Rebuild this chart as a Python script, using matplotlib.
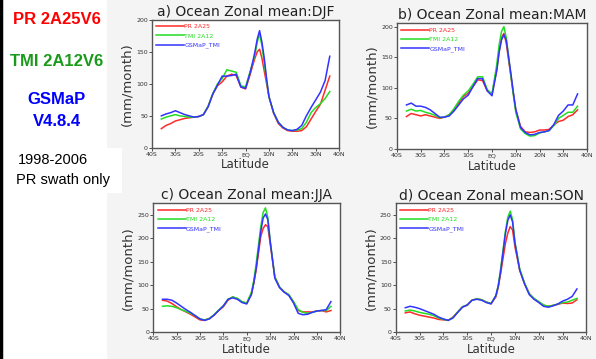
import numpy as np
import matplotlib
matplotlib.use("Agg")
import matplotlib.pyplot as plt
from matplotlib.patches import Rectangle
from matplotlib.lines import Line2D

# latitude grid (deg, S negative); 1-degree spacing around the ITCZ peak
lat = [-36, -34, -32, -30, -28, -26, -24, -22, -20, -18, -16, -14, -12, -10, -8, -6, -4, -2, 0, 2,
       3, 4, 5, 6, 7, 8, 9, 10,
       12, 14, 16, 18, 20, 22, 24, 26, 28, 30, 32, 34, 36]

# DJF
djf_pr = [30, 35, 38, 42, 44, 46, 47, 48, 49, 52, 65, 84, 97, 103, 112, 115, 113, 95, 92, 115,
          128, 140, 150, 154, 140, 120, 100, 80,
          54, 38, 31, 27, 26, 26, 27, 33, 45, 57, 68, 90, 112]
djf_tmi = [45, 48, 50, 52, 50, 49, 48, 48, 49, 52, 65, 85, 100, 108, 122, 120, 118, 97, 95, 120,
           132, 145, 165, 178, 160, 132, 105, 80,
           55, 40, 32, 28, 27, 28, 30, 40, 55, 63, 69, 77, 88]
djf_gsm = [50, 53, 55, 58, 55, 52, 50, 48, 49, 52, 64, 84, 98, 112, 112, 113, 115, 95, 93, 118,
           133, 150, 170, 183, 165, 140, 108, 80,
           55, 40, 32, 28, 27, 29, 35, 50, 63, 75, 87, 105, 143]

# MAM
mam_pr = [53, 58, 56, 54, 56, 54, 52, 50, 52, 56, 64, 75, 86, 91, 102, 113, 112, 95, 90, 130,
          160, 182, 189, 173, 145, 118, 90, 64,
          37, 28, 27, 28, 31, 31, 32, 39, 45, 47, 53, 56, 64]
mam_tmi = [62, 65, 62, 63, 60, 58, 55, 51, 52, 56, 66, 78, 88, 95, 106, 118, 118, 97, 90, 138,
           170, 192, 200, 182, 150, 118, 88, 60,
           33, 25, 21, 22, 26, 28, 30, 38, 50, 55, 60, 60, 70]
mam_gsm = [72, 75, 70, 70, 68, 64, 58, 52, 52, 54, 62, 72, 82, 88, 102, 115, 115, 95, 87, 128,
           158, 178, 187, 178, 150, 122, 92, 65,
           35, 27, 23, 24, 27, 28, 30, 40, 55, 62, 72, 72, 90]

# JJA
jja_pr = [68, 66, 61, 54, 48, 43, 38, 32, 26, 25, 29, 36, 46, 54, 68, 75, 71, 64, 62, 82,
          104, 132, 168, 204, 221, 229, 225, 189,
          118, 96, 86, 79, 64, 46, 43, 43, 43, 45, 46, 43, 46]
jja_tmi = [55, 56, 55, 52, 48, 44, 40, 35, 28, 26, 29, 37, 47, 56, 70, 75, 72, 65, 62, 85,
           110, 145, 185, 225, 255, 265, 245, 195,
           118, 96, 86, 80, 65, 48, 42, 40, 42, 45, 46, 46, 55]
jja_gsm = [70, 70, 68, 62, 55, 48, 42, 35, 28, 25, 28, 36, 46, 56, 70, 73, 70, 63, 60, 80,
           105, 135, 175, 215, 243, 252, 240, 195,
           115, 95, 85, 78, 62, 40, 37, 38, 42, 45, 46, 48, 65]

# SON
son_pr = [41, 43, 39, 36, 34, 32, 30, 27, 26, 25, 32, 43, 54, 57, 68, 71, 69, 64, 61, 75,
          96, 125, 157, 189, 211, 225, 218, 182,
          132, 104, 82, 71, 64, 57, 55, 57, 59, 62, 61, 62, 69]
son_tmi = [45, 47, 45, 42, 40, 38, 35, 30, 27, 25, 31, 43, 54, 58, 68, 71, 69, 64, 61, 78,
           100, 135, 175, 215, 245, 258, 240, 192,
           135, 105, 82, 72, 65, 58, 55, 57, 60, 63, 64, 68, 72]
son_gsm = [52, 55, 53, 50, 46, 42, 38, 32, 28, 25, 30, 42, 53, 58, 68, 70, 68, 63, 60, 78,
           98, 130, 170, 210, 238, 250, 235, 190,
           132, 103, 80, 70, 63, 55, 53, 56, 60, 66, 70, 76, 92]

xticks = [-40, -30, -20, -10, 0, 10, 20, 30, 40]
xticklabels = ["40S", "30S", "20S", "10S", "EQ", "10N", "20N", "30N", "40N"]
names = ["PR 2A25", "TMI 2A12", "GSMaP_TMI"]
cols = ["#ff2a2a", "#22dd22", "#3333ff"]

panels = [
    ("a) Ocean Zonal mean:DJF", [djf_pr, djf_tmi, djf_gsm], 200, [0, 50, 100, 150, 200],
     [0.255, 0.588, 0.314, 0.357]),
    ("b) Ocean Zonal mean:MAM", [mam_pr, mam_tmi, mam_gsm], 206, [0, 50, 100, 150, 200],
     [0.666, 0.585, 0.319, 0.351]),
    ("c) Ocean Zonal mean:JJA", [jja_pr, jja_tmi, jja_gsm], 275, [0, 50, 100, 150, 200, 250],
     [0.257, 0.075, 0.314, 0.359]),
    ("d) Ocean Zonal mean:SON", [son_pr, son_tmi, son_gsm], 275, [0, 50, 100, 150, 200, 250],
     [0.664, 0.075, 0.320, 0.359]),
]

fig = plt.figure(figsize=(5.96, 3.59), dpi=100)
fig.patch.set_facecolor("white")

# grey background of the pasted chart image, white box at the left
fig.patches.append(Rectangle((107 / 596, 0), 1, 1, transform=fig.transFigure,
                             facecolor="#f4f4f4", edgecolor="none", zorder=-10))
fig.patches.append(Rectangle((0, 1 - 193 / 359), 122 / 596, 45 / 359, transform=fig.transFigure,
                             facecolor="white", edgecolor="none", zorder=-9))
fig.lines.append(Line2D([0.002, 0.002], [0, 1], transform=fig.transFigure, color="black", lw=2.5))

for title, series, ytop, yt, pos in panels:
    ax = fig.add_axes(pos)
    ax.set_facecolor("white")
    for s, c, n in zip(series, cols, names):
        ax.plot(lat, s, color=c, lw=1.1, label=n)
    ax.set_xlim(-40, 40)
    ax.set_ylim(0, ytop)
    ax.set_xticks(xticks)
    ax.set_xticklabels(xticklabels)
    ax.set_yticks(yt)
    ax.tick_params(labelsize=4.5, length=2, width=0.6, pad=1, colors="#333333")
    for sp in ax.spines.values():
        sp.set_color("#555555")
        sp.set_linewidth(1.0)
    ax.set_title(title, fontsize=10, color="#222222", pad=3)
    ax.set_xlabel("Latitude", fontsize=8.5, color="#333333", labelpad=1)
    ax.set_ylabel("(mm/month)", fontsize=9.5, color="#333333", labelpad=2)
    leg = ax.legend(loc="upper left", fontsize=4.5, frameon=False, handlelength=4.5,
                    handletextpad=0.0, labelspacing=0.6, borderaxespad=0.3,
                    labelcolor="linecolor")

# left-hand annotations
fig.text(57 / 596, 1 - 20 / 359, "PR 2A25V6", color="#ff0000", fontsize=12, fontweight="bold",
         family="Liberation Sans", ha="center", va="center")
fig.text(57 / 596, 1 - 62 / 359, "TMI 2A12V6", color="#1a9a1a", fontsize=12, fontweight="bold",
         family="Liberation Sans", ha="center", va="center")
fig.text(57 / 596, 1 - 100 / 359, "GSMaP", color="#0000ff", fontsize=12, fontweight="bold",
         family="Liberation Sans", ha="center", va="center")
fig.text(57 / 596, 1 - 122 / 359, "V4.8.4", color="#0000ff", fontsize=12, fontweight="bold",
         family="Liberation Sans", ha="center", va="center")
fig.text(18 / 596, 1 - 160 / 359, "1998-2006", color="black", fontsize=10.5,
         family="Liberation Sans", ha="left", va="center")
fig.text(16 / 596, 1 - 180 / 359, "PR swath only", color="black", fontsize=10.5,
         family="Liberation Sans", ha="left", va="center")

fig.savefig("out.png", dpi=100)
